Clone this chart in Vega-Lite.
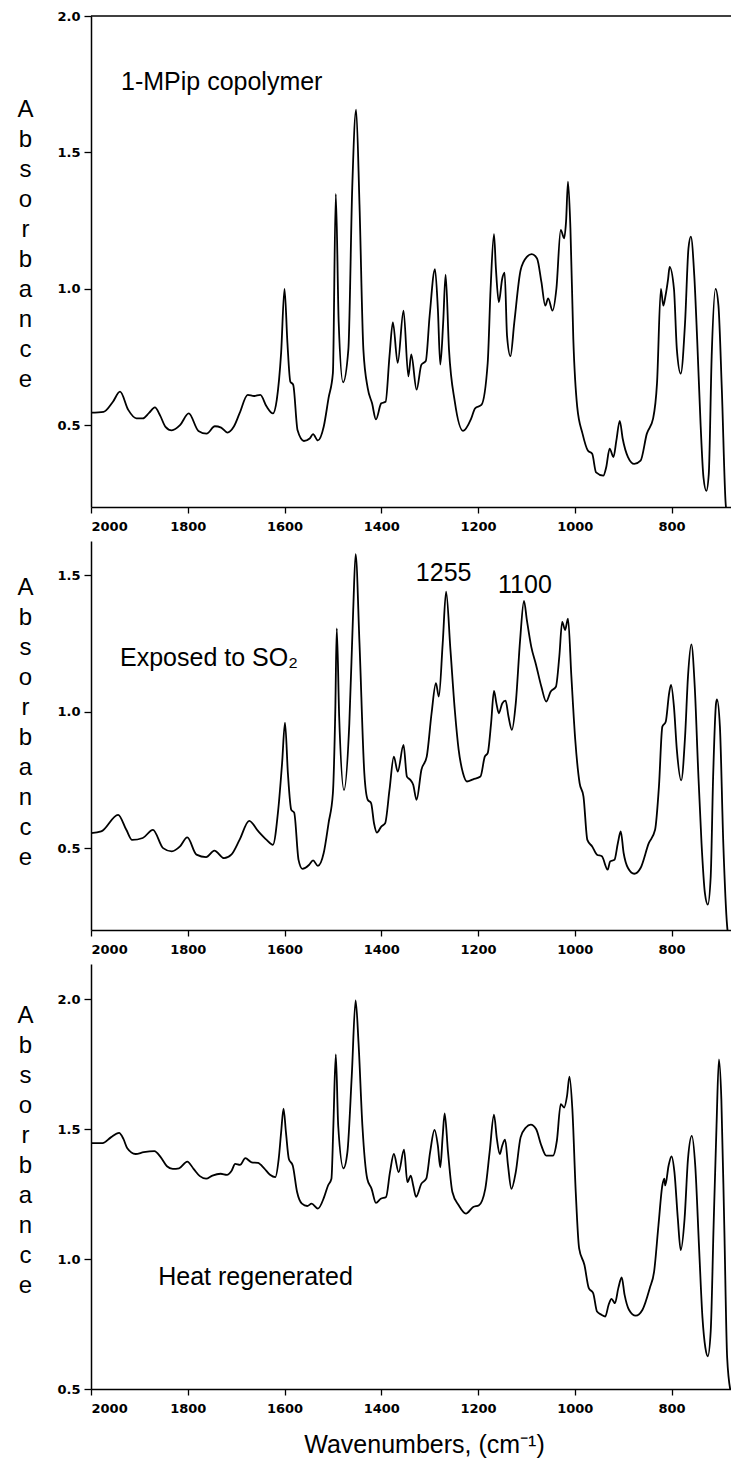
{
  "$schema": "https://vega.github.io/schema/vega-lite/v6.json",
  "background": "white",
  "padding": {"left": 16, "top": 10, "right": 0, "bottom": 4},
  "spacing": 34,
  "bounds": "flush",
  "config": {
    "view": {"stroke": null},
    "axis": {
      "domainColor": "black", "domainWidth": 1.5, "tickColor": "black", "tickWidth": 1.3,
      "labelColor": "black", "labelFont": "DejaVu Sans", "labelFontWeight": "bold", "labelFontSize": 13,
      "grid": false, "titleColor": "black", "titleFont": "Liberation Sans", "titleFontWeight": "normal"
    },
    "axisX": {"tickSize": 6, "labelPadding": 7},
    "axisY": {"tickSize": 7, "labelPadding": 4}
  },
  "datasets": {
    "p1": [
      {"wn":2000,"a":0.546},{"wn":1974,"a":0.549},{"wn":1955,"a":0.585},{"wn":1940,"a":0.623},{"wn":1923,"a":0.556},
      {"wn":1906,"a":0.525},{"wn":1893,"a":0.525},{"wn":1880,"a":0.545},{"wn":1868,"a":0.565},{"wn":1857,"a":0.535},
      {"wn":1846,"a":0.494},{"wn":1833,"a":0.481},{"wn":1816,"a":0.5},{"wn":1798,"a":0.543},{"wn":1778,"a":0.479},
      {"wn":1761,"a":0.469},{"wn":1744,"a":0.496},{"wn":1731,"a":0.491},{"wn":1718,"a":0.473},{"wn":1705,"a":0.494},
      {"wn":1693,"a":0.543},{"wn":1676,"a":0.611},{"wn":1663,"a":0.607},{"wn":1650,"a":0.611},{"wn":1637,"a":0.568},
      {"wn":1624,"a":0.543},{"wn":1616,"a":0.593},{"wn":1607,"a":0.765},{"wn":1600,"a":1.0},{"wn":1594,"a":0.802},
      {"wn":1588,"a":0.66},{"wn":1582,"a":0.648},{"wn":1573,"a":0.481},{"wn":1560,"a":0.442},{"wn":1548,"a":0.451},
      {"wn":1541,"a":0.467},{"wn":1531,"a":0.444},{"wn":1519,"a":0.494},{"wn":1509,"a":0.599},{"wn":1500,"a":0.691},
      {"wn":1494,"a":1.348},{"wn":1488,"a":0.877},{"wn":1479,"a":0.657},{"wn":1468,"a":0.778},{"wn":1460,"a":1.37},
      {"wn":1452,"a":1.657},{"wn":1445,"a":1.309},{"wn":1437,"a":0.778},{"wn":1428,"a":0.636},{"wn":1419,"a":0.58},
      {"wn":1411,"a":0.521},{"wn":1400,"a":0.58},{"wn":1391,"a":0.586},{"wn":1383,"a":0.753},{"wn":1376,"a":0.877},
      {"wn":1366,"a":0.728},{"wn":1354,"a":0.92},{"wn":1344,"a":0.679},{"wn":1338,"a":0.759},{"wn":1327,"a":0.63},
      {"wn":1317,"a":0.722},{"wn":1308,"a":0.735},{"wn":1300,"a":0.901},{"wn":1289,"a":1.072},{"wn":1283,"a":0.926},
      {"wn":1278,"a":0.722},{"wn":1272,"a":0.877},{"wn":1267,"a":1.052},{"wn":1260,"a":0.778},{"wn":1248,"a":0.586},
      {"wn":1231,"a":0.479},{"wn":1214,"a":0.525},{"wn":1206,"a":0.562},{"wn":1193,"a":0.574},{"wn":1180,"a":0.728},
      {"wn":1174,"a":1.0},{"wn":1167,"a":1.2},{"wn":1163,"a":1.074},{"wn":1157,"a":0.951},{"wn":1150,"a":1.037},
      {"wn":1145,"a":1.059},{"wn":1140,"a":0.827},{"wn":1133,"a":0.753},{"wn":1125,"a":0.877},{"wn":1112,"a":1.068},
      {"wn":1099,"a":1.117},{"wn":1089,"a":1.127},{"wn":1078,"a":1.111},{"wn":1069,"a":1.025},{"wn":1061,"a":0.938},
      {"wn":1055,"a":0.965},{"wn":1046,"a":0.92},{"wn":1038,"a":1.0},{"wn":1029,"a":1.216},{"wn":1022,"a":1.185},
      {"wn":1018,"a":1.247},{"wn":1014,"a":1.393},{"wn":1009,"a":1.222},{"wn":1003,"a":0.815},{"wn":995,"a":0.568},
      {"wn":984,"a":0.469},{"wn":973,"a":0.407},{"wn":964,"a":0.395},{"wn":956,"a":0.327},{"wn":941,"a":0.315},
      {"wn":935,"a":0.346},{"wn":928,"a":0.414},{"wn":920,"a":0.383},{"wn":914,"a":0.444},{"wn":907,"a":0.516},
      {"wn":901,"a":0.451},{"wn":890,"a":0.383},{"wn":877,"a":0.358},{"wn":864,"a":0.37},{"wn":851,"a":0.469},
      {"wn":838,"a":0.525},{"wn":830,"a":0.654},{"wn":822,"a":1.0},{"wn":817,"a":0.938},{"wn":813,"a":0.969},
      {"wn":807,"a":1.037},{"wn":804,"a":1.08},{"wn":795,"a":1.0},{"wn":789,"a":0.778},{"wn":781,"a":0.689},
      {"wn":772,"a":0.877},{"wn":765,"a":1.148},{"wn":760,"a":1.191},{"wn":753,"a":1.049},{"wn":747,"a":0.815},
      {"wn":740,"a":0.506},{"wn":734,"a":0.309},{"wn":728,"a":0.259},{"wn":723,"a":0.321},{"wn":717,"a":0.753},
      {"wn":709,"a":1.0},{"wn":703,"a":0.938},{"wn":696,"a":0.63},{"wn":688,"a":0.21},{"wn":686,"a":0.18}
    ],
    "p2": [
      {"wn":2000,"a":0.555},{"wn":1979,"a":0.561},{"wn":1944,"a":0.622},{"wn":1927,"a":0.567},{"wn":1915,"a":0.53},
      {"wn":1893,"a":0.537},{"wn":1872,"a":0.567},{"wn":1851,"a":0.5},{"wn":1833,"a":0.488},{"wn":1816,"a":0.506},
      {"wn":1801,"a":0.539},{"wn":1782,"a":0.476},{"wn":1762,"a":0.467},{"wn":1745,"a":0.491},{"wn":1725,"a":0.463},
      {"wn":1710,"a":0.476},{"wn":1693,"a":0.53},{"wn":1673,"a":0.6},{"wn":1654,"a":0.561},{"wn":1637,"a":0.53},
      {"wn":1624,"a":0.512},{"wn":1613,"a":0.64},{"wn":1605,"a":0.811},{"wn":1599,"a":0.96},{"wn":1593,"a":0.774},
      {"wn":1586,"a":0.64},{"wn":1580,"a":0.63},{"wn":1571,"a":0.457},{"wn":1563,"a":0.424},{"wn":1549,"a":0.439},
      {"wn":1541,"a":0.455},{"wn":1531,"a":0.435},{"wn":1519,"a":0.482},{"wn":1509,"a":0.591},{"wn":1500,"a":0.701},
      {"wn":1495,"a":1.006},{"wn":1492,"a":1.305},{"wn":1487,"a":0.982},{"wn":1477,"a":0.713},{"wn":1466,"a":0.957},
      {"wn":1458,"a":1.372},{"wn":1453,"a":1.577},{"wn":1445,"a":1.25},{"wn":1435,"a":0.774},{"wn":1428,"a":0.677},
      {"wn":1421,"a":0.665},{"wn":1415,"a":0.591},{"wn":1409,"a":0.557},{"wn":1400,"a":0.579},{"wn":1392,"a":0.591},
      {"wn":1383,"a":0.713},{"wn":1374,"a":0.835},{"wn":1366,"a":0.78},{"wn":1354,"a":0.878},{"wn":1347,"a":0.762},
      {"wn":1340,"a":0.75},{"wn":1334,"a":0.732},{"wn":1327,"a":0.677},{"wn":1317,"a":0.787},{"wn":1306,"a":0.835},
      {"wn":1296,"a":0.994},{"wn":1287,"a":1.104},{"wn":1281,"a":1.055},{"wn":1273,"a":1.25},{"wn":1266,"a":1.439},
      {"wn":1257,"a":1.226},{"wn":1248,"a":1.006},{"wn":1240,"a":0.86},{"wn":1231,"a":0.774},{"wn":1223,"a":0.744},
      {"wn":1210,"a":0.752},{"wn":1195,"a":0.762},{"wn":1186,"a":0.835},{"wn":1180,"a":0.848},{"wn":1173,"a":0.957},
      {"wn":1167,"a":1.076},{"wn":1162,"a":1.03},{"wn":1157,"a":0.994},{"wn":1150,"a":1.03},{"wn":1143,"a":1.04},
      {"wn":1137,"a":0.982},{"wn":1130,"a":0.933},{"wn":1122,"a":1.03},{"wn":1113,"a":1.262},{"wn":1105,"a":1.406},
      {"wn":1099,"a":1.335},{"wn":1090,"a":1.238},{"wn":1080,"a":1.171},{"wn":1069,"a":1.091},{"wn":1059,"a":1.037},
      {"wn":1050,"a":1.073},{"wn":1039,"a":1.091},{"wn":1032,"a":1.201},{"wn":1026,"a":1.329},{"wn":1020,"a":1.299},
      {"wn":1014,"a":1.341},{"wn":1007,"a":1.128},{"wn":999,"a":0.896},{"wn":990,"a":0.738},{"wn":982,"a":0.689},
      {"wn":974,"a":0.53},{"wn":964,"a":0.506},{"wn":954,"a":0.476},{"wn":944,"a":0.47},{"wn":932,"a":0.421},
      {"wn":927,"a":0.451},{"wn":918,"a":0.457},{"wn":911,"a":0.518},{"wn":905,"a":0.561},{"wn":899,"a":0.482},
      {"wn":890,"a":0.427},{"wn":877,"a":0.406},{"wn":864,"a":0.427},{"wn":847,"a":0.518},{"wn":834,"a":0.567},
      {"wn":826,"a":0.726},{"wn":819,"a":0.945},{"wn":812,"a":0.963},{"wn":805,"a":1.067},{"wn":801,"a":1.098},
      {"wn":795,"a":1.018},{"wn":789,"a":0.86},{"wn":780,"a":0.748},{"wn":772,"a":0.909},{"wn":766,"a":1.128},
      {"wn":759,"a":1.246},{"wn":752,"a":1.091},{"wn":745,"a":0.787},{"wn":738,"a":0.518},{"wn":731,"a":0.335},
      {"wn":725,"a":0.293},{"wn":719,"a":0.396},{"wn":714,"a":0.762},{"wn":708,"a":1.03},{"wn":706,"a":1.045},
      {"wn":700,"a":0.945},{"wn":693,"a":0.518},{"wn":685,"a":0.213},{"wn":683,"a":0.18}
    ],
    "p3": [
      {"wn":2000,"a":1.446},{"wn":1976,"a":1.446},{"wn":1959,"a":1.468},{"wn":1942,"a":1.485},{"wn":1933,"a":1.462},
      {"wn":1925,"a":1.426},{"wn":1908,"a":1.404},{"wn":1891,"a":1.411},{"wn":1869,"a":1.415},{"wn":1856,"a":1.392},
      {"wn":1843,"a":1.357},{"wn":1831,"a":1.347},{"wn":1818,"a":1.349},{"wn":1801,"a":1.375},{"wn":1788,"a":1.347},
      {"wn":1775,"a":1.319},{"wn":1762,"a":1.309},{"wn":1749,"a":1.321},{"wn":1732,"a":1.328},{"wn":1719,"a":1.324},
      {"wn":1709,"a":1.341},{"wn":1702,"a":1.366},{"wn":1692,"a":1.362},{"wn":1681,"a":1.388},{"wn":1668,"a":1.372},
      {"wn":1655,"a":1.37},{"wn":1642,"a":1.349},{"wn":1630,"a":1.324},{"wn":1619,"a":1.315},{"wn":1612,"a":1.385},
      {"wn":1607,"a":1.487},{"wn":1602,"a":1.579},{"wn":1597,"a":1.487},{"wn":1591,"a":1.385},{"wn":1583,"a":1.36},
      {"wn":1574,"a":1.258},{"wn":1564,"a":1.213},{"wn":1553,"a":1.204},{"wn":1544,"a":1.213},{"wn":1531,"a":1.194},
      {"wn":1518,"a":1.239},{"wn":1510,"a":1.283},{"wn":1503,"a":1.309},{"wn":1499,"a":1.513},{"wn":1494,"a":1.787},
      {"wn":1489,"a":1.513},{"wn":1478,"a":1.349},{"wn":1470,"a":1.411},{"wn":1461,"a":1.704},{"wn":1453,"a":1.995},
      {"wn":1447,"a":1.832},{"wn":1439,"a":1.513},{"wn":1429,"a":1.309},{"wn":1420,"a":1.27},{"wn":1411,"a":1.216},
      {"wn":1401,"a":1.232},{"wn":1390,"a":1.239},{"wn":1382,"a":1.334},{"wn":1374,"a":1.404},{"wn":1364,"a":1.334},
      {"wn":1353,"a":1.421},{"wn":1346,"a":1.296},{"wn":1339,"a":1.321},{"wn":1334,"a":1.283},{"wn":1328,"a":1.239},
      {"wn":1317,"a":1.29},{"wn":1307,"a":1.309},{"wn":1299,"a":1.411},{"wn":1290,"a":1.497},{"wn":1283,"a":1.436},
      {"wn":1278,"a":1.353},{"wn":1273,"a":1.474},{"wn":1269,"a":1.56},{"wn":1262,"a":1.411},{"wn":1253,"a":1.258},
      {"wn":1240,"a":1.207},{"wn":1225,"a":1.175},{"wn":1210,"a":1.2},{"wn":1198,"a":1.207},{"wn":1185,"a":1.27},
      {"wn":1176,"a":1.411},{"wn":1167,"a":1.555},{"wn":1161,"a":1.462},{"wn":1155,"a":1.404},{"wn":1150,"a":1.436},
      {"wn":1144,"a":1.459},{"wn":1138,"a":1.36},{"wn":1131,"a":1.27},{"wn":1122,"a":1.334},{"wn":1112,"a":1.468},
      {"wn":1101,"a":1.506},{"wn":1091,"a":1.517},{"wn":1080,"a":1.5},{"wn":1069,"a":1.436},{"wn":1059,"a":1.398},
      {"wn":1045,"a":1.398},{"wn":1037,"a":1.455},{"wn":1029,"a":1.596},{"wn":1022,"a":1.583},{"wn":1016,"a":1.628},
      {"wn":1011,"a":1.702},{"wn":1005,"a":1.577},{"wn":998,"a":1.258},{"wn":991,"a":1.041},{"wn":980,"a":0.977},
      {"wn":971,"a":0.888},{"wn":962,"a":0.869},{"wn":954,"a":0.798},{"wn":945,"a":0.786},{"wn":937,"a":0.779},
      {"wn":930,"a":0.824},{"wn":924,"a":0.847},{"wn":917,"a":0.83},{"wn":910,"a":0.888},{"wn":903,"a":0.929},
      {"wn":897,"a":0.862},{"wn":888,"a":0.805},{"wn":874,"a":0.782},{"wn":860,"a":0.805},{"wn":845,"a":0.888},
      {"wn":836,"a":0.952},{"wn":827,"a":1.13},{"wn":819,"a":1.283},{"wn":815,"a":1.309},{"wn":813,"a":1.283},
      {"wn":806,"a":1.36},{"wn":800,"a":1.395},{"wn":794,"a":1.334},{"wn":787,"a":1.156},{"wn":781,"a":1.034},
      {"wn":773,"a":1.156},{"wn":766,"a":1.385},{"wn":758,"a":1.474},{"wn":751,"a":1.36},{"wn":743,"a":1.041},
      {"wn":736,"a":0.773},{"wn":730,"a":0.658},{"wn":725,"a":0.626},{"wn":719,"a":0.722},{"wn":713,"a":1.13},
      {"wn":707,"a":1.513},{"wn":702,"a":1.768},{"wn":697,"a":1.615},{"wn":691,"a":1.13},{"wn":685,"a":0.62},
      {"wn":678,"a":0.492}
    ],
    "lab1": [{"wn":1938,"a":1.758,"t":"1-MPip copolymer"}],
    "lab2": [{"wn":1940,"a":1.195,"t":"Exposed to SO₂"}],
    "peaks2": [{"wn":1271,"a":1.506,"t":"1255"},{"wn":1103,"a":1.463,"t":"1100"}],
    "lab3": [{"wn":1861,"a":0.932,"t":"Heat regenerated"}]
  },
  "vconcat": [
    {
      "width": 641, "height": 491,
      "layer": [
        {
          "data": {"name": "p1"},
          "mark": {"type": "line", "color": "black", "strokeWidth": 1.8, "clip": true, "interpolate": "monotone"},
          "encoding": {
            "x": {"field": "wn", "type": "quantitative", "scale": {"domain": [675, 2000], "reverse": true, "nice": false, "zero": false},
                  "axis": {"values": [2000,1800,1600,1400,1200,1000,800], "format": "d", "title": null}},
            "y": {"field": "a", "type": "quantitative", "scale": {"domain": [0.2, 2.0], "nice": false, "zero": false},
                  "axis": {"values": [0.5,1.0,1.5,2.0], "format": ".1f", "title": ["A","b","s","o","r","b","a","n","c","e"],
                           "titleAngle": 0, "titleX": -66, "titleY": 81, "titleAlign": "center", "titleBaseline": "top",
                           "titleFontSize": 24, "titleLineHeight": 30}}
          }
        },
        {
          "data": {"values": [{}]},
          "mark": {"type": "rule", "color": "black", "strokeWidth": 1.5},
          "encoding": {"y": {"datum": 2.0}}
        },
        {
          "data": {"name": "lab1"},
          "mark": {"type": "text", "align": "left", "baseline": "middle", "font": "Liberation Sans", "fontSize": 25, "color": "black"},
          "encoding": {"x": {"field": "wn", "type": "quantitative"}, "y": {"field": "a", "type": "quantitative"}, "text": {"field": "t"}}
        }
      ]
    },
    {
      "width": 641, "height": 389,
      "layer": [
        {
          "data": {"name": "p2"},
          "mark": {"type": "line", "color": "black", "strokeWidth": 1.8, "clip": true, "interpolate": "monotone"},
          "encoding": {
            "x": {"field": "wn", "type": "quantitative", "scale": {"domain": [675, 2000], "reverse": true, "nice": false, "zero": false},
                  "axis": {"values": [2000,1800,1600,1400,1200,1000,800], "format": "d", "title": null}},
            "y": {"field": "a", "type": "quantitative", "scale": {"domain": [0.2, 1.625], "nice": false, "zero": false},
                  "axis": {"values": [0.5,1.0,1.5], "format": ".1f", "title": ["A","b","s","o","r","b","a","n","c","e"],
                           "titleAngle": 0, "titleX": -66, "titleY": 34, "titleAlign": "center", "titleBaseline": "top",
                           "titleFontSize": 24, "titleLineHeight": 30}}
          }
        },
        {
          "data": {"name": "lab2"},
          "mark": {"type": "text", "align": "left", "baseline": "middle", "font": "Liberation Sans", "fontSize": 25, "color": "black"},
          "encoding": {"x": {"field": "wn", "type": "quantitative"}, "y": {"field": "a", "type": "quantitative"}, "text": {"field": "t"}}
        },
        {
          "data": {"name": "peaks2"},
          "mark": {"type": "text", "align": "center", "baseline": "middle", "font": "Liberation Sans", "fontSize": 25, "color": "black"},
          "encoding": {"x": {"field": "wn", "type": "quantitative"}, "y": {"field": "a", "type": "quantitative"}, "text": {"field": "t"}}
        }
      ]
    },
    {
      "width": 641, "height": 425,
      "layer": [
        {
          "data": {"name": "p3"},
          "mark": {"type": "line", "color": "black", "strokeWidth": 1.8, "clip": true, "interpolate": "monotone"},
          "encoding": {
            "x": {"field": "wn", "type": "quantitative", "scale": {"domain": [675, 2000], "reverse": true, "nice": false, "zero": false},
                  "axis": {"values": [2000,1800,1600,1400,1200,1000,800], "format": "d", "title": "Wavenumbers, (cm⁻¹)",
                           "titleFontSize": 25, "titlePadding": 17, "titleX": 333}},
            "y": {"field": "a", "type": "quantitative", "scale": {"domain": [0.5, 2.135], "nice": false, "zero": false},
                  "axis": {"values": [0.5,1.0,1.5,2.0], "format": ".1f", "title": ["A","b","s","o","r","b","a","n","c","e"],
                           "titleAngle": 0, "titleX": -66, "titleY": 39, "titleAlign": "center", "titleBaseline": "top",
                           "titleFontSize": 24, "titleLineHeight": 30}}
          }
        },
        {
          "data": {"name": "lab3"},
          "mark": {"type": "text", "align": "left", "baseline": "middle", "font": "Liberation Sans", "fontSize": 25, "color": "black"},
          "encoding": {"x": {"field": "wn", "type": "quantitative"}, "y": {"field": "a", "type": "quantitative"}, "text": {"field": "t"}}
        }
      ]
    }
  ]
}
